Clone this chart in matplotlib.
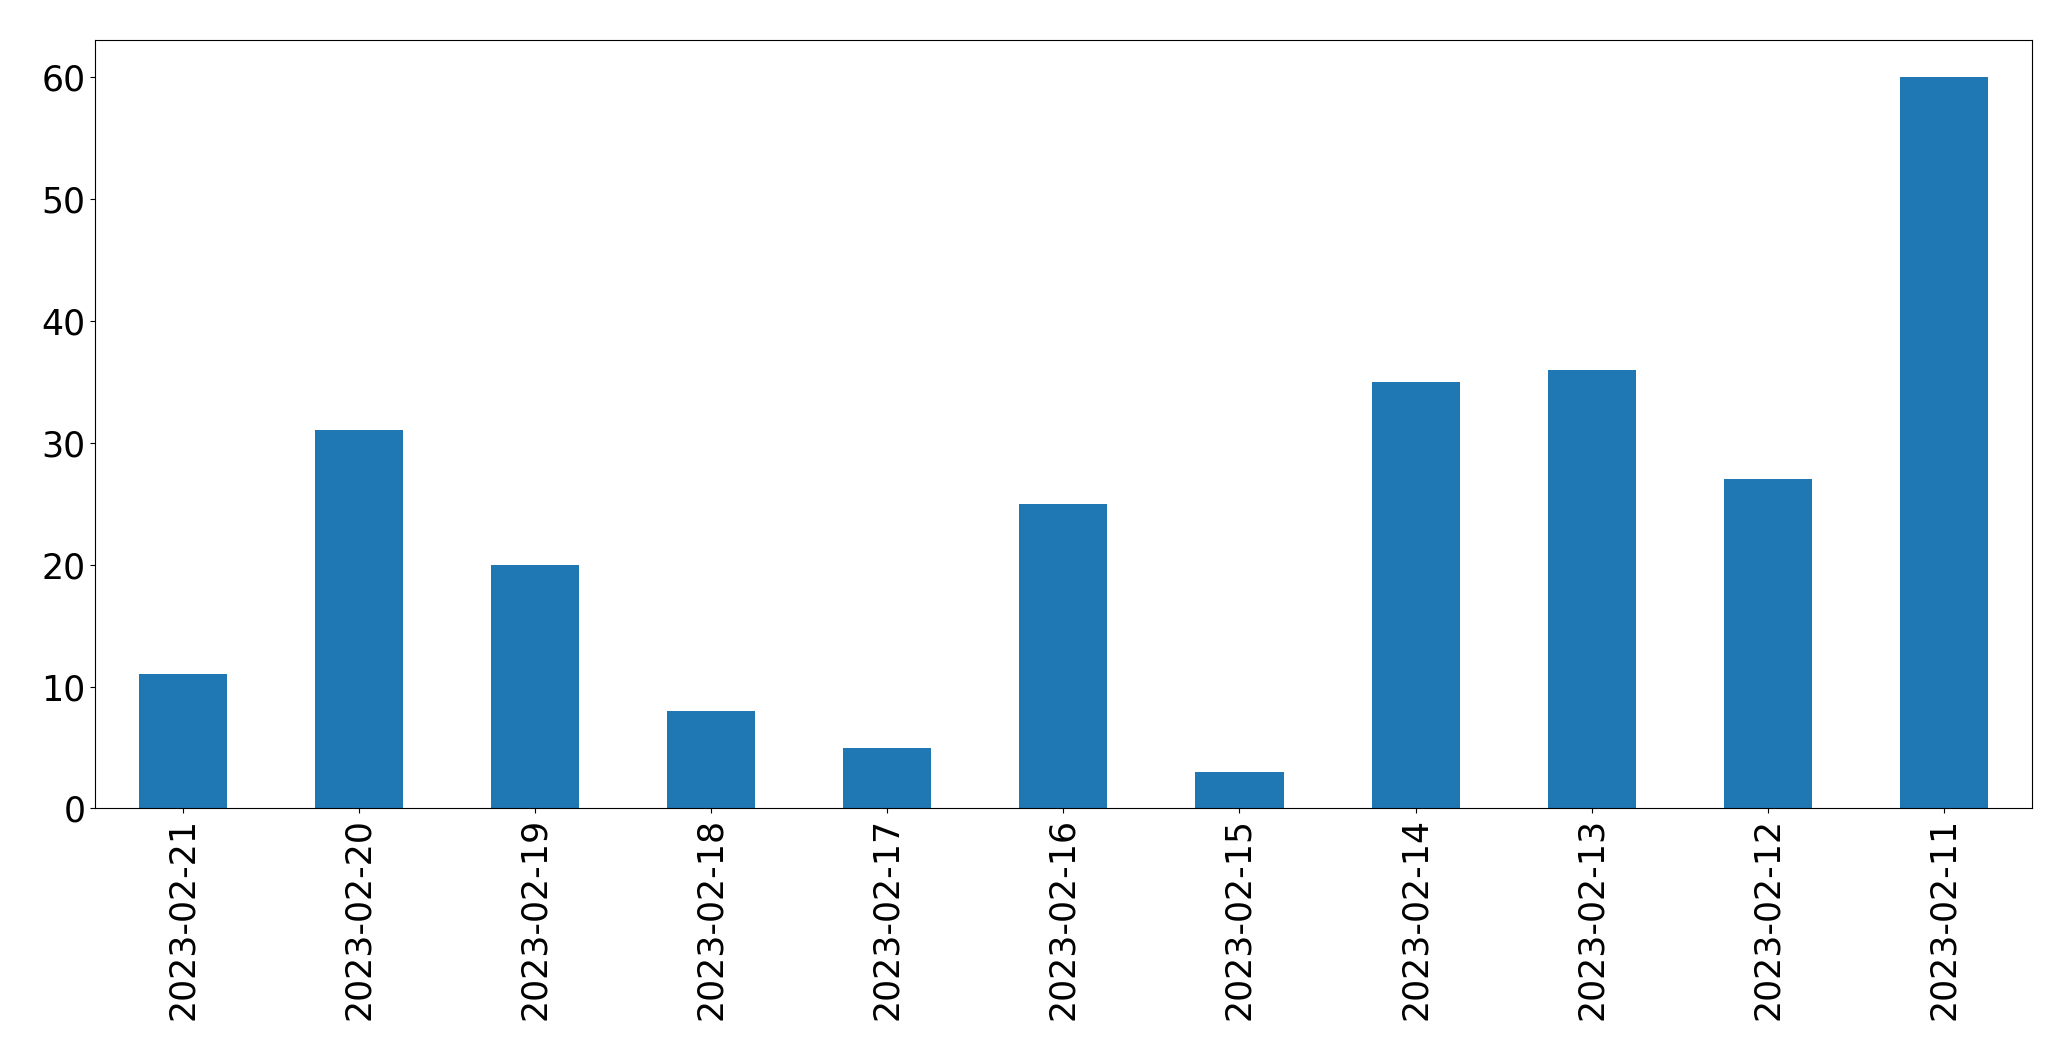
import matplotlib.pyplot as plt
import numpy as np

dates = ["2023-02-21", "2023-02-20", "2023-02-19", "2023-02-18", "2023-02-17",
         "2023-02-16", "2023-02-15", "2023-02-14", "2023-02-13", "2023-02-12",
         "2023-02-11"]
counts = [11, 31, 20, 8, 5, 25, 3, 35, 36, 27, 60]

fig, ax = plt.subplots(figsize=(20.71, 10.61), dpi=100)
fig.subplots_adjust(left=0.046, right=0.981, top=0.962, bottom=0.238)

x = np.arange(len(dates))
ax.bar(x, counts, width=0.5, color="#1f77b4")
ax.set_xlim(-0.5, len(dates) - 0.5)
ax.set_xticks(x)
ax.set_xticklabels(dates, rotation=90)
ax.tick_params(axis="both", labelsize=25)

fig.savefig("out.png")
